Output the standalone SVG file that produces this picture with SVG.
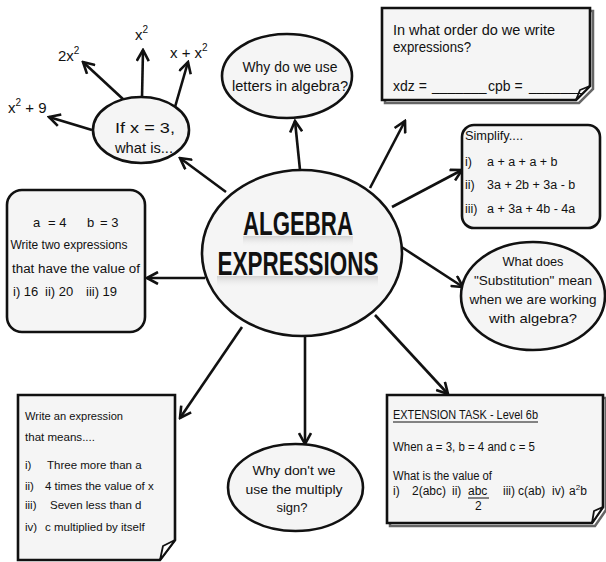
<svg xmlns="http://www.w3.org/2000/svg" width="606" height="562" viewBox="0 0 606 562">
<defs>
<style>
.shape{fill:#f5f5f5;stroke:#111;stroke-width:2.6}
.shadow{fill:none;stroke:#666;stroke-width:2.5}
.flap{fill:#fff;stroke:#111;stroke-width:1.8;stroke-linejoin:round}
.t{font-family:"Liberation Sans","DejaVu Sans",sans-serif;fill:#111}
.c{text-anchor:middle}
.conn line{stroke:#111;stroke-width:2.6;marker-end:url(#ah)}
.title{font-family:"Liberation Sans","DejaVu Sans",sans-serif;font-weight:700;font-size:34px;text-anchor:middle;fill:#111}
</style>
<marker id="ah" viewBox="0 0 14 14" refX="12" refY="7" markerWidth="14" markerHeight="14" markerUnits="userSpaceOnUse" orient="auto">
<path d="M1,1 L12,7 L1,13" fill="none" stroke="#111" stroke-width="2.6" stroke-linejoin="miter"/>
</marker>
<linearGradient id="glow" x1="0" y1="0" x2="0" y2="1">
<stop offset="0" stop-color="#bbb" stop-opacity="0.6"/>
<stop offset="1" stop-color="#f5f5f5" stop-opacity="0"/>
</linearGradient>
</defs>
<rect width="606" height="562" fill="#fff"/>

<g id="connectors" class="conn">
<line x1="226" y1="192" x2="180" y2="158"/>
<line x1="92" y1="130" x2="49" y2="117"/>
<line x1="124" y1="100" x2="83" y2="62"/>
<line x1="142" y1="98" x2="143" y2="50"/>
<line x1="175" y1="107" x2="188" y2="62"/>
<line x1="300" y1="170" x2="295" y2="121"/>
<line x1="370" y1="188" x2="405" y2="121"/>
<line x1="392" y1="207" x2="462" y2="170"/>
<line x1="400" y1="246" x2="463" y2="287"/>
<line x1="205" y1="278" x2="147" y2="278"/>
<line x1="242" y1="327" x2="180" y2="418"/>
<line x1="305" y1="336" x2="305" y2="444"/>
<line x1="375" y1="315" x2="448" y2="394"/>
</g>

<g id="center">
<ellipse class="shape" cx="302" cy="253" rx="100" ry="83"/>
<rect x="243" y="236" width="110" height="11" fill="url(#glow)"/>
<rect x="217" y="276" width="161" height="12" fill="url(#glow)"/>
<text class="title" x="298" y="235" textLength="110" lengthAdjust="spacingAndGlyphs">ALGEBRA</text>
<text class="title" x="298" y="275" textLength="161" lengthAdjust="spacingAndGlyphs">EXPRESSIONS</text>
</g>

<g id="if-x">
<ellipse class="shape" cx="141" cy="130" rx="48" ry="33"/>
<text class="t c" x="145" y="133" font-size="15" textLength="60" lengthAdjust="spacingAndGlyphs">If x = 3,</text>
<text class="t c" x="144" y="153" font-size="15" textLength="58" lengthAdjust="spacingAndGlyphs">what is...</text>
</g>

<g id="lbl-x2plus9">
<text class="t" x="8" y="113" font-size="15">x<tspan dy="-7" font-size="10">2</tspan><tspan dy="7"> + 9</tspan></text>
</g>
<g id="lbl-2x2">
<text class="t" x="58" y="61" font-size="15">2x<tspan dy="-7" font-size="10">2</tspan></text>
</g>
<g id="lbl-x2">
<text class="t" x="135" y="40" font-size="15">x<tspan dy="-7" font-size="10">2</tspan></text>
</g>
<g id="lbl-xplusx2">
<text class="t" x="170" y="58" font-size="15">x + x<tspan dy="-7" font-size="10">2</tspan></text>
</g>

<g id="why-letters">
<ellipse class="shape" cx="287" cy="76" rx="65" ry="42"/>
<text class="t c" x="290" y="72" font-size="14" textLength="95" lengthAdjust="spacingAndGlyphs">Why do we use</text>
<text class="t c" x="290" y="91" font-size="14" textLength="116" lengthAdjust="spacingAndGlyphs">letters in algebra?</text>
</g>

<g id="order">
<path class="shadow" d="M385,11 H593 V89 L579,103 H385 Z"/>
<path class="shape" d="M382,8 H590 V86 L576,100 H382 Z"/>
<path class="flap" d="M576,100 L580,90 L590,86 Z"/>
<text class="t" x="393" y="35" font-size="14" textLength="162" lengthAdjust="spacingAndGlyphs">In what order do we write</text>
<text class="t" x="393" y="52" font-size="14" textLength="78" lengthAdjust="spacingAndGlyphs">expressions?</text>
<text class="t" x="393" y="91" font-size="14">xdz = <tspan x="432">_______</tspan><tspan x="488">cpb = </tspan><tspan x="529">_______</tspan></text>
</g>

<g id="simplify">
<rect class="shape" x="462" y="125" width="138" height="103" rx="12"/>
<text class="t" x="465" y="140" font-size="12" textLength="58" lengthAdjust="spacingAndGlyphs">Simplify....</text>
<text class="t" x="465" y="166" font-size="12.5">i)<tspan x="487">a + a + a + b</tspan></text>
<text class="t" x="465" y="189" font-size="12.5">ii)<tspan x="487">3a + 2b + 3a - b</tspan></text>
<text class="t" x="465" y="213" font-size="12.5">iii)<tspan x="487">a + 3a + 4b - 4a</tspan></text>
</g>

<g id="substitution">
<ellipse class="shape" cx="533" cy="296" rx="72" ry="54"/>
<text class="t c" x="533" y="266" font-size="13" textLength="61" lengthAdjust="spacingAndGlyphs">What does</text>
<text class="t c" x="533" y="285" font-size="13" textLength="118" lengthAdjust="spacingAndGlyphs">"Substitution" mean</text>
<text class="t c" x="533" y="304" font-size="13" textLength="127" lengthAdjust="spacingAndGlyphs">when we are working</text>
<text class="t c" x="533" y="323" font-size="13" textLength="88" lengthAdjust="spacingAndGlyphs">with algebra?</text>
</g>

<g id="values">
<rect class="shape" x="7" y="190" width="138" height="142" rx="15"/>
<text class="t" x="33" y="227" font-size="13">a<tspan x="48">= 4</tspan><tspan x="87">b</tspan><tspan x="100">= 3</tspan></text>
<text class="t c" x="69" y="249" font-size="12.5" textLength="117" lengthAdjust="spacingAndGlyphs">Write two expressions</text>
<text class="t c" x="76" y="273" font-size="12.5" textLength="128" lengthAdjust="spacingAndGlyphs">that have the value of</text>
<text class="t" x="13" y="296" font-size="13">i) 16<tspan x="45">ii) 20</tspan><tspan x="86">iii) 19</tspan></text>
</g>

<g id="write-expression">
<path class="shape" d="M18,395 H175 V540 L160,560 H18 Z"/>
<path class="flap" d="M160,560 L163,546 L175,540 Z"/>
<text class="t" x="25" y="420" font-size="11.5" textLength="98" lengthAdjust="spacingAndGlyphs">Write an expression</text>
<text class="t" x="25" y="441" font-size="11.5" textLength="70" lengthAdjust="spacingAndGlyphs">that means....</text>
<text class="t" x="25" y="469" font-size="11.5">i)<tspan x="47">Three more than a</tspan></text>
<text class="t" x="25" y="490" font-size="11.5">ii)<tspan x="45">4 times the value of x</tspan></text>
<text class="t" x="25" y="509" font-size="11.5">iii)<tspan x="50">Seven less than d</tspan></text>
<text class="t" x="25" y="531" font-size="11.5">iv)<tspan x="45">c multiplied by itself</tspan></text>
</g>

<g id="multiply">
<ellipse class="shape" cx="295.5" cy="487.5" rx="67.5" ry="43.5"/>
<text class="t c" x="294" y="475" font-size="13" textLength="83" lengthAdjust="spacingAndGlyphs">Why don't we</text>
<text class="t c" x="294" y="494" font-size="13" textLength="97" lengthAdjust="spacingAndGlyphs">use the multiply</text>
<text class="t c" x="292" y="512" font-size="13">sign?</text>
</g>

<g id="extension">
<path class="shadow" d="M390,398 H606 V510 L595,526 H390 Z"/>
<path class="shape" d="M387,395 H603 V507 L592,523 H387 Z"/>
<path class="flap" d="M592,523 L594,511 L603,507 Z"/>
<text class="t" x="393" y="419" font-size="12" textLength="145" lengthAdjust="spacingAndGlyphs">EXTENSION TASK - Level 6b</text>
<line x1="393" y1="422" x2="538" y2="422" stroke="#111" stroke-width="1"/>
<text class="t" x="393" y="451" font-size="12" textLength="142" lengthAdjust="spacingAndGlyphs">When a = 3, b = 4 and c = 5</text>
<text class="t" x="393" y="480" font-size="12" textLength="99" lengthAdjust="spacingAndGlyphs">What is the value of</text>
<text class="t" x="393" y="495" font-size="12">i)<tspan x="412">2(abc)</tspan><tspan x="452">ii)</tspan><tspan x="468">abc</tspan><tspan x="503">iii)</tspan><tspan x="518">c(ab)</tspan><tspan x="552">iv)</tspan><tspan x="569">a</tspan><tspan dy="-5" font-size="8">2</tspan><tspan dy="5">b</tspan></text>
<line x1="468" y1="498" x2="489" y2="498" stroke="#111" stroke-width="1"/>
<text class="t" x="475" y="510" font-size="12">2</text>
</g>
</svg>
